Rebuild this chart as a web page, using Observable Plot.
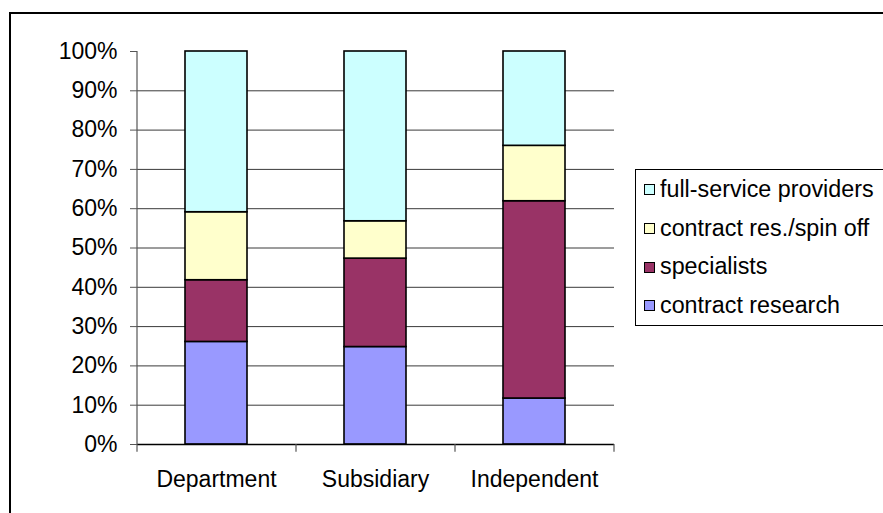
<!DOCTYPE html>
<html>
<head>
<meta charset="utf-8">
<script src="https://cdn.jsdelivr.net/npm/d3@7"></script>
<script src="https://cdn.jsdelivr.net/npm/@observablehq/plot@0.6"></script>
<style>
  html, body { margin: 0; padding: 0; background: #fff; overflow: hidden; }
  body { width: 883px; height: 513px; position: relative; font-family: "Liberation Sans", Arial, sans-serif; }
  #frame { position: absolute; left: 9px; top: 12px; width: 1000px; height: 1000px; border: 2px solid #000; box-sizing: border-box; }
  #chart { position: absolute; left: 0; top: 0; }
  #legend { position: absolute; left: 635px; top: 169px; width: 320px; height: 155px; border: 1px solid #000; background: #fff; font-size: 23.3px; color: #000; }
  #legend .row { height: 38.7px; line-height: 38.7px; white-space: nowrap; padding-left: 8px; }
  #legend .sw { display: inline-block; width: 9px; height: 9px; border: 1px solid #000; margin-right: 5px; vertical-align: middle; position: relative; top: -1px; }
</style>
</head>
<body>
<div id="frame"></div>
<div id="chart"></div>
<div id="legend"></div>
<script>
// Organisation types along the x axis
const categories = ["Department", "Subsidiary", "Independent"];

// Series, listed bottom to top of each stacked bar
const series = ["contract research", "specialists", "contract res./spin off", "full-service providers"];
const colors = ["#9999FF", "#993366", "#FFFFCC", "#CCFFFF"];

// Share of each series per category (fractions of 100%)
const contractResearch = [0.261, 0.248, 0.117];
const specialists = [0.157, 0.225, 0.502];
const contractSpinOff = [0.173, 0.095, 0.141];
const fullService = [0.409, 0.432, 0.240];

// Percentage ticks on the y axis
const yTicks = [0, 0.1, 0.2, 0.3, 0.4, 0.5, 0.6, 0.7, 0.8, 0.9, 1.0];
const gridTicks = yTicks.filter(t => t > 0 && t < 1);

const valuesBySeries = [contractResearch, specialists, contractSpinOff, fullService];
const table = [];
series.forEach((s, si) => {
  categories.forEach((c, ci) => {
    table.push({category: c, series: s, share: valuesBySeries[si][ci]});
  });
});

const W = 883, H = 513;
const mL = 137, mR = 269, mT = 51, mB = 69;
const step = (W - mL - mR) / categories.length;
const tickLen = 0.02; // length of the small outer ticks, in y units

const chart = Plot.plot({
  width: W,
  height: H,
  marginLeft: mL,
  marginRight: mR,
  marginTop: mT,
  marginBottom: mB,
  style: {fontFamily: "Liberation Sans, Arial, sans-serif", fontSize: "23px", color: "#000", background: "transparent", overflow: "visible"},
  x: {domain: categories, paddingInner: 0.61, paddingOuter: 0.305, label: null},
  y: {domain: [0, 1], label: null},
  color: {domain: series, range: colors},
  marks: [
    // horizontal gridlines
    Plot.ruleY(gridTicks, {stroke: "#3a3a3a", strokeWidth: 1}),
    // stacked bars
    Plot.barY(table, {
      x: "category",
      y: "share",
      fill: "series",
      order: series,
      stroke: "#000",
      strokeWidth: 1.6
    }),
    // x axis baseline
    Plot.ruleY([0], {stroke: "#000", strokeWidth: 1.5}),
    // y axis line, extended down to form the first category tick
    Plot.ruleX([categories[0]], {y1: -tickLen, y2: 1, dx: -step / 2, stroke: "#555", strokeWidth: 1.2}),
    // category boundary ticks below the baseline
    Plot.ruleX(categories.slice(1), {y1: 0, y2: -tickLen, dx: -step / 2, stroke: "#555", strokeWidth: 1.2}),
    Plot.ruleX([categories[categories.length - 1]], {y1: 0, y2: -tickLen, dx: step / 2, stroke: "#555", strokeWidth: 1.2}),
    Plot.axisY({
      ticks: yTicks,
      tickFormat: d => Math.round(d * 100) + "%",
      tickSize: 7,
      tickPadding: 13,
      stroke: "#555",
      fill: "#000",
      label: null
    }),
    Plot.axisX({tickSize: 0, tickPadding: 26, fill: "#000", label: null})
  ]
});
document.getElementById("chart").appendChild(chart);

// Legend, top entry first
const legend = document.getElementById("legend");
for (let i = series.length - 1; i >= 0; i--) {
  const row = document.createElement("div");
  row.className = "row";
  const sw = document.createElement("span");
  sw.className = "sw";
  sw.style.background = colors[i];
  row.appendChild(sw);
  row.appendChild(document.createTextNode(series[i]));
  legend.appendChild(row);
}
</script>
</body>
</html>
